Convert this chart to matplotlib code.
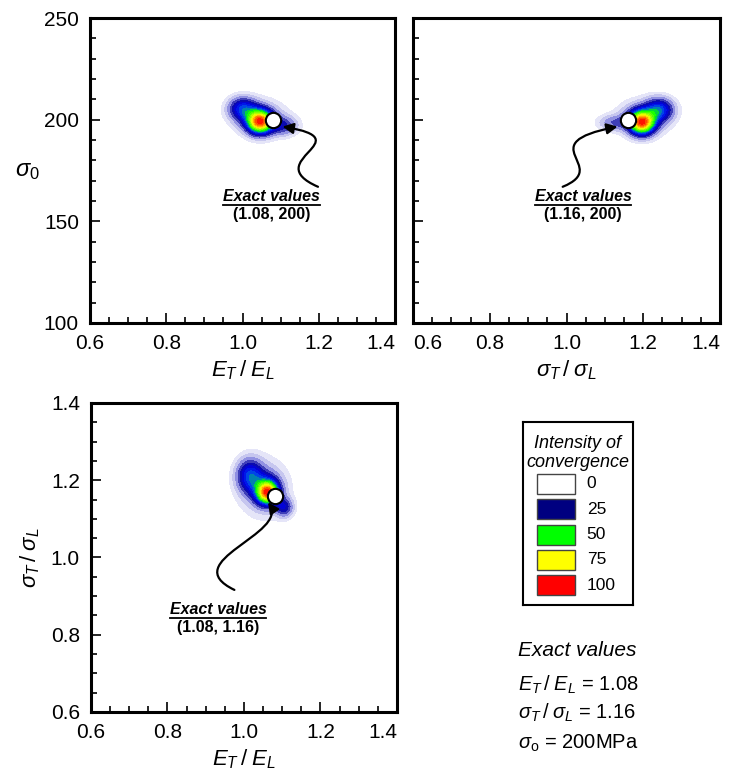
import numpy as np
import matplotlib
matplotlib.use('Agg')
import matplotlib.pyplot as plt
from matplotlib.colors import LinearSegmentedColormap
from matplotlib.patches import Rectangle, FancyArrowPatch
from matplotlib.path import Path
from matplotlib.lines import Line2D

plt.rcParams['font.family'] = ['Liberation Sans', 'DejaVu Sans']
plt.rcParams['mathtext.fontset'] = 'custom'
plt.rcParams['mathtext.rm'] = 'Liberation Sans'
plt.rcParams['mathtext.it'] = 'Liberation Sans:italic'
plt.rcParams['mathtext.bf'] = 'Liberation Sans:bold'

# exact values
exact_ratio_E = 1.08
exact_ratio_s = 1.16
exact_s0 = 200

# density blobs: (x, y, amplitude, sx, sy)
blobs_1 = [(1.046, 198.8, 100, 0.021, 3.7),
           (1.000, 205.5, 42, 0.024, 3.6),
           (1.040, 200.5, 30, 0.030, 4.0),
           (1.105, 197.0, 25, 0.025, 3.0),
           (1.050, 201.0, 9, 0.055, 7.0)]
blobs_2 = [(1.196, 198.4, 100, 0.021, 3.7),
           (1.242, 205.0, 45, 0.024, 3.6),
           (1.200, 200.5, 30, 0.030, 4.0),
           (1.125, 198.5, 18, 0.028, 2.4),
           (1.200, 201.0, 9, 0.055, 7.0)]
blobs_3 = [(1.062, 1.168, 100, 0.018, 0.019),
           (1.015, 1.212, 42, 0.022, 0.028),
           (1.055, 1.180, 30, 0.028, 0.030),
           (1.105, 1.130, 30, 0.015, 0.016),
           (1.050, 1.180, 9, 0.050, 0.060)]

legend_levels = [0, 25, 50, 75, 100]
legend_colors = ['white', '#000080', '#00ff00', '#ffff00', '#ff0000']

cmap = LinearSegmentedColormap.from_list('conv', [
    (0.00, (1, 1, 1)),
    (0.06, (0.86, 0.86, 0.96)),
    (0.13, (0.55, 0.55, 0.88)),
    (0.20, (0.05, 0.05, 0.62)),
    (0.30, (0.00, 0.00, 0.92)),
    (0.40, (0.00, 0.35, 0.90)),
    (0.50, (0.00, 1.00, 0.00)),
    (0.75, (1.00, 1.00, 0.00)),
    (1.00, (1.00, 0.00, 0.00))])


def density(blobs, xr, yr, nx, ny):
    x = np.linspace(xr[0], xr[1], nx)
    y = np.linspace(yr[0], yr[1], ny)
    X, Y = np.meshgrid(x, y)
    Z = np.zeros_like(X)
    for bx, by, a, sx, sy in blobs:
        Z += a * np.exp(-0.5 * (((X - bx) / sx) ** 2 + ((Y - by) / sy) ** 2))
    Z = Z / Z.max() * 100
    return X, Y, Z


def style(ax, xlim, ylim, xmaj, xmin, ymaj, ymin):
    ax.set_xlim(xlim)
    ax.set_ylim(ylim)
    ax.set_xticks(np.arange(xlim[0], xlim[1] + 1e-9, xmaj))
    ax.set_xticks(np.arange(xlim[0], xlim[1] + 1e-9, xmin), minor=True)
    ax.set_yticks(np.arange(ylim[0], ylim[1] + 1e-9, ymaj))
    ax.set_yticks(np.arange(ylim[0], ylim[1] + 1e-9, ymin), minor=True)
    ax.tick_params(which='both', direction='in', top=False, right=False, width=1.2, labelsize=15, pad=8)
    ax.tick_params(which='major', length=7)
    ax.tick_params(which='minor', length=4)
    for s in ax.spines.values():
        s.set_linewidth(2.2)


levels = [3, 6, 10, 15, 20, 25, 30, 35, 40, 45, 50, 55, 60, 65, 70, 75, 80, 85, 90, 95, 101]

fig = plt.figure(figsize=(7.3, 7.77), dpi=100)
ax1 = fig.add_axes([0.1233, 0.5843, 0.4178, 0.3925])
ax2 = fig.add_axes([0.5658, 0.5843, 0.4205, 0.3925])
ax3 = fig.add_axes([0.1247, 0.0837, 0.4190, 0.3977])

panels = [
    (ax1, blobs_1, (0.6, 1.4), (100, 250), (exact_ratio_E, exact_s0), 50, 10),
    (ax2, blobs_2, (0.6, 1.4), (100, 250), (exact_ratio_s, exact_s0), 50, 10),
    (ax3, blobs_3, (0.6, 1.4), (0.6, 1.4), (exact_ratio_E, exact_ratio_s), 0.2, 0.05),
]
for ax, blobs, xr, yr, ex, ymaj, ymin in panels:
    X, Y, Z = density(blobs, xr, yr, 161, 121)
    ax.contourf(X, Y, Z, levels=levels, cmap=cmap, vmin=0, vmax=100)
    ax.plot(ex[0], ex[1], 'o', ms=11, mfc='white', mec='black', mew=1.5, zorder=5)
    style(ax, xr, yr, 0.2, 0.05, ymaj, ymin)

xlabels = ['0.6', '0.8', '1.0', '1.2', '1.4']
ax1.set_xticklabels(xlabels)
ax1.set_yticklabels(['100', '150', '200', '250'])
ax2.set_xticklabels(xlabels)
ax2.set_yticklabels([])
ax3.set_xticklabels(xlabels)
ax3.set_yticklabels(['0.6', '0.8', '1.0', '1.2', '1.4'])
# keep edge labels from running into the neighbour panel
ax1.get_xticklabels()[-1].set_ha('right')
ax2.get_xticklabels()[0].set_ha('left')
ax2.get_xticklabels()[-1].set_ha('right')
ax3.get_xticklabels()[-1].set_ha('right')

ax1.set_xlabel(r'$E_T\,/\;E_L$', fontsize=16, labelpad=4)
ax2.set_xlabel(r'$\sigma_T\,/\;\sigma_L$', fontsize=16, labelpad=4)
ax3.set_xlabel(r'$E_T\,/\;E_L$', fontsize=16, labelpad=4)
ax1.set_ylabel(r'$\sigma_0$', fontsize=17, rotation=0, labelpad=12, va='center')
ax3.set_ylabel(r'$\sigma_T\,/\;\sigma_L$', fontsize=16, labelpad=6)

# annotations: (axis, text xy, label, curve points)
notes = [
    (ax1, (1.077, 162), '(1.08, 200)',
     [(1.198, 167.0), (1.04, 180.0), (1.32, 190.0), (1.105, 196.6)]),
    (ax2, (1.043, 162), '(1.16, 200)',
     [(0.990, 167.0), (1.12, 177.0), (0.90, 188.0), (1.133, 196.6)]),
    (ax3, (0.932, 0.866), '(1.08, 1.16)',
     [(0.975, 0.916), (0.82, 0.99), (1.12, 1.06), (1.063, 1.143)]),
]
texts = []
for ax, txy, lab, pts in notes:
    t = ax.text(txy[0], txy[1], 'Exact values', fontsize=11.5, fontweight='bold', style='italic',
                ha='center', va='center')
    ax.text(txy[0], txy[1] - (ax.get_ylim()[1] - ax.get_ylim()[0]) * 0.058, lab, fontsize=11.5,
            fontweight='bold', ha='center', va='center')
    path = Path(pts, [Path.MOVETO, Path.CURVE4, Path.CURVE4, Path.CURVE4])
    arr = FancyArrowPatch(path=path, arrowstyle='-|>', mutation_scale=16, lw=1.6, color='black', zorder=4)
    ax.add_patch(arr)
    texts.append(t)

# underline under "Exact values"
fig.canvas.draw()
r = fig.canvas.get_renderer()
inv = fig.transFigure.inverted()
for t in texts:
    bb = t.get_window_extent(r)
    (x0, y0), (x1, _) = inv.transform([(bb.x0, bb.y0 - 1), (bb.x1, bb.y0 - 1)])
    fig.add_artist(Line2D([x0, x1], [y0, y0], color='black', lw=1.3, transform=fig.transFigure))

# legend box
lax = fig.add_axes([0.716, 0.2214, 0.1507, 0.2355])
lax.set_xlim(0, 110)
lax.set_ylim(183, 0)
lax.set_xticks([])
lax.set_yticks([])
for s in lax.spines.values():
    s.set_linewidth(1.5)
lax.text(55, 22, 'Intensity of', fontsize=13, style='italic', ha='center', va='center')
lax.text(55, 41, 'convergence', fontsize=13, style='italic', ha='center', va='center')
for i, (lv, c) in enumerate(zip(legend_levels, legend_colors)):
    y = 52 + i * 25.3
    lax.add_patch(Rectangle((14, y), 38, 20, facecolor=c, edgecolor='#444444', lw=1))
    lax.text(64, y + 10, str(lv), fontsize=12.5, va='center', ha='left')

# exact values text
fig.text(0.709, 1 - 650 / 777, 'Exact values', fontsize=15, style='italic', va='center')
fig.text(0.709, 1 - 685 / 777, r'$E_T\,/\;E_L$ = 1.08', fontsize=14.5, va='center')
fig.text(0.709, 1 - 713 / 777, r'$\sigma_T\,/\;\sigma_L$ = 1.16', fontsize=14.5, va='center')
fig.text(0.709, 1 - 743 / 777, r'$\sigma_{\rm o}$ = 200MPa', fontsize=14.5, va='center')

fig.savefig('out.png', dpi=100)
